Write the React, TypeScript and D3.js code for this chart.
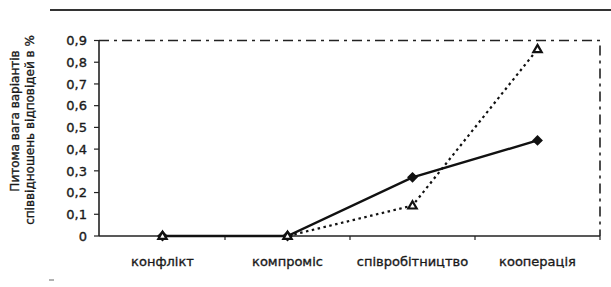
import React from "react";
import * as d3 from "d3";

const categories = ["конфлікт", "компроміс", "співробітництво", "кооперація"];
const seriesSolid = [0, 0, 0.27, 0.44];
const seriesDotted = [0, 0, 0.14, 0.86];
const yTicks = [0, 0.1, 0.2, 0.3, 0.4, 0.5, 0.6, 0.7, 0.8, 0.9];
const yTitle = ["Питома вага варіантів", "співвідношень відповідей в %"];

export default function App() {
  const W = 611, H = 287;
  const left = 99, right = 600, top = 40.5, bottom = 236;
  const x = d3.scaleBand<string>().domain(categories).range([left + 1, right]).padding(0);
  const y = d3.scaleLinear().domain([0, 0.9]).range([bottom, top]);
  const cx = (c: string) => (x(c) as number) + x.bandwidth() / 2;
  const line = d3.line<number>().x((_, i) => cx(categories[i])).y((d) => y(d));
  const fmt = (v: number) => (v === 0 ? "0" : d3.format(".1f")(v).replace(".", ","));
  const font = "'DejaVu Sans', Verdana, sans-serif";
  const txt = { fontFamily: font, fill: "#1a1a1a", stroke: "#1a1a1a", strokeWidth: 0.35 };
  const diamond = d3.symbol().type(d3.symbolDiamond2).size(75)();
  const tri = d3.symbol().type(d3.symbolTriangle2).size(50)();
  const tickX = categories.map((c) => (x(c) as number) + x.bandwidth());
  return (
    <svg width={W} height={H} style={{ position: "absolute", left: 0, top: 0, background: "#fff" }}>
      <rect width={W} height={H} fill="#fff" />
      <line x1={50} x2={611} y1={10} y2={10} stroke="#333" strokeWidth={2} />
      {/* dash-dot frame */}
      <path
        d={`M${left},${y(0.9)}H${right}V${bottom}`}
        fill="none"
        stroke="#222"
        strokeWidth={1.6}
        strokeDasharray="10,5,3,5"
      />
      {/* axes */}
      <line x1={left} x2={left} y1={y(0.9)} y2={bottom} stroke="#222" strokeWidth={1.6} />
      <line x1={left} x2={right} y1={bottom} y2={bottom} stroke="#222" strokeWidth={1.6} />
      {yTicks.map((t) => (
        <g key={t}>
          <line x1={left - 5} x2={left} y1={y(t)} y2={y(t)} stroke="#222" strokeWidth={1.2} />
          <text x={87} y={y(t)} dy="0.36em" textAnchor="end" fontSize={13} {...txt}>
            {fmt(t)}
          </text>
        </g>
      ))}
      {tickX.map((tx, i) => (
        <line key={i} x1={tx} x2={tx} y1={bottom} y2={bottom + 4} stroke="#222" strokeWidth={1.2} />
      ))}
      {categories.map((c) => (
        <text key={c} x={cx(c)} y={266} textAnchor="middle" fontSize={13} {...txt}>
          {c}
        </text>
      ))}
      <g transform="translate(15,121) rotate(-90)">
        <text textAnchor="middle" fontSize={12} dy="0.35em" {...txt}>
          {yTitle[0]}
        </text>
      </g>
      <g transform="translate(30,130) rotate(-90)">
        <text textAnchor="middle" fontSize={12} dy="0.35em" {...txt}>
          {yTitle[1]}
        </text>
      </g>
      <line x1={49} x2={54} y1={280} y2={280} stroke="#666" strokeWidth={1} />
      {/* series */}
      <path d={line(seriesDotted) || ""} fill="none" stroke="#111" strokeWidth={2.2} strokeDasharray="2.5,3.5" />
      <path d={line(seriesSolid) || ""} fill="none" stroke="#111" strokeWidth={2.4} />
      {seriesSolid.map((v, i) => (
        <path key={"d" + i} d={diamond || ""} transform={`translate(${cx(categories[i])},${y(v)})`} fill="#111" />
      ))}
      {seriesDotted.map((v, i) => (
        <path
          key={"t" + i}
          d={tri || ""}
          transform={`translate(${cx(categories[i])},${y(v) + 0.5})`}
          fill="#fff"
          stroke="#111"
          strokeWidth={2.2}
        />
      ))}
    </svg>
  );
}
